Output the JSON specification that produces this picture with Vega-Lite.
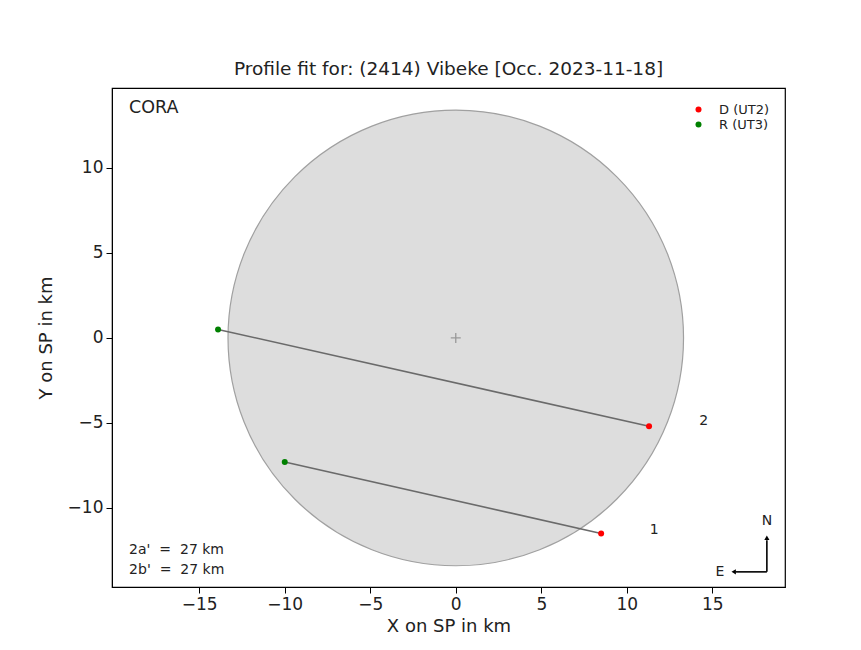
{
  "$schema": "https://vega.github.io/schema/vega-lite/v6.json",
  "width": 673,
  "height": 499,
  "autosize": {"type": "none"},
  "padding": {"left": 112, "top": 88, "right": 76, "bottom": 63},
  "background": "white",
  "title": {"text": "Profile fit for: (2414) Vibeke [Occ. 2023-11-18]", "fontSize": 18.5, "fontWeight": "normal", "font": "DejaVu Sans", "color": "#222", "offset": 10},
  "config": {
    "view": {"stroke": "black", "strokeWidth": 1.2},
    "axis": {"grid": false, "labelFont": "DejaVu Sans", "titleFont": "DejaVu Sans", "labelFontSize": 17, "titleFontSize": 18, "titleFontWeight": "normal", "labelColor": "#222", "titleColor": "#222", "tickColor": "black", "domainColor": "black", "tickSize": 6, "labelPadding": 3, "labelExpr": "replace(datum.label, '-', '−')"},
    "text": {"font": "DejaVu Sans"}
  },
  "datasets": {
    "chords": [
      {"chord": "2", "event": "R (UT3)", "x": -13.9, "y": 0.5},
      {"chord": "2", "event": "D (UT2)", "x": 11.3, "y": -5.2},
      {"chord": "1", "event": "R (UT3)", "x": -10.0, "y": -7.3},
      {"chord": "1", "event": "D (UT2)", "x": 8.5, "y": -11.5}
    ]
  },
  "encoding": {
    "x": {"field": "x", "type": "quantitative", "scale": {"domain": [-20.1, 19.25], "nice": false, "zero": false}, "axis": {"values": [-15, -10, -5, 0, 5, 10, 15], "title": "X on SP in km", "titlePadding": 5}},
    "y": {"field": "y", "type": "quantitative", "scale": {"domain": [-14.65, 14.7], "nice": false, "zero": false}, "axis": {"values": [-10, -5, 0, 5, 10], "title": "Y on SP in km", "titlePadding": 12}}
  },
  "layer": [
    {
      "data": {"values": [{"x": 0, "y": 0}]},
      "mark": {"type": "point", "shape": "circle", "filled": true, "size": 207500, "fill": "#dddddd", "fillOpacity": 1, "stroke": "#a0a0a0", "strokeWidth": 1.2, "opacity": 1}
    },
    {
      "data": {"values": [{"x": 0, "y": 0}]},
      "mark": {"type": "point", "shape": "M-1,0L1,0M0,-1L0,1", "filled": false, "size": 100, "stroke": "#999999", "strokeWidth": 1.3, "opacity": 1}
    },
    {
      "data": {"name": "chords"},
      "mark": {"type": "line", "color": "#6a6a6a", "strokeWidth": 1.6},
      "encoding": {"detail": {"field": "chord"}}
    },
    {
      "data": {"name": "chords"},
      "mark": {"type": "point", "filled": true, "shape": "circle", "size": 36, "opacity": 1},
      "encoding": {
        "color": {"field": "event", "type": "nominal", "scale": {"domain": ["D (UT2)", "R (UT3)"], "range": ["#ff0000", "#008000"]},
          "legend": {"title": null, "orient": "top-right", "offset": 15, "labelFont": "DejaVu Sans", "labelFontSize": 13, "labelColor": "#222", "symbolSize": 36, "symbolType": "circle", "rowPadding": 1, "labelOffset": 14, "padding": 0}}
      }
    },
    {
      "data": {"values": [{"x": 14.5, "y": -4.9, "t": "2"}, {"x": 11.6, "y": -11.3, "t": "1"}]},
      "mark": {"type": "text", "fontSize": 14, "color": "#222", "align": "center", "baseline": "middle"},
      "encoding": {"text": {"field": "t"}}
    },
    {
      "data": {"values": [{"x": -19.1, "y": 13.5, "t": "CORA"}]},
      "mark": {"type": "text", "fontSize": 17.5, "color": "#222", "align": "left", "baseline": "middle"},
      "encoding": {"text": {"field": "t"}}
    },
    {
      "data": {"values": [{"x": -19.1, "y": -12.5, "t": "2a'\u00a0\u00a0=\u00a0\u00a027 km"}, {"x": -19.1, "y": -13.65, "t": "2b'\u00a0\u00a0=\u00a0\u00a027 km"}]},
      "mark": {"type": "text", "fontSize": 14, "color": "#222", "align": "left", "baseline": "middle"},
      "encoding": {"text": {"field": "t"}}
    },
    {
      "data": {"values": [{"x": 18.19, "y": -13.76, "x2": 18.19, "y2": -11.9}, {"x": 18.19, "y": -13.76, "x2": 16.35, "y2": -13.76}]},
      "mark": {"type": "rule", "color": "black", "strokeWidth": 1.6},
      "encoding": {"x2": {"field": "x2"}, "y2": {"field": "y2"}}
    },
    {
      "data": {"values": [{"x": 18.19, "y": -11.75, "s": "triangle-up"}, {"x": 16.25, "y": -13.76, "s": "triangle-left"}]},
      "mark": {"type": "point", "filled": true, "color": "black", "size": 26, "opacity": 1},
      "encoding": {"shape": {"field": "s", "type": "nominal", "scale": null}}
    },
    {
      "data": {"values": [{"x": 18.19, "y": -10.75, "t": "N"}, {"x": 15.45, "y": -13.76, "t": "E"}]},
      "mark": {"type": "text", "fontSize": 14, "color": "#222", "align": "center", "baseline": "middle"},
      "encoding": {"text": {"field": "t"}}
    }
  ]
}
